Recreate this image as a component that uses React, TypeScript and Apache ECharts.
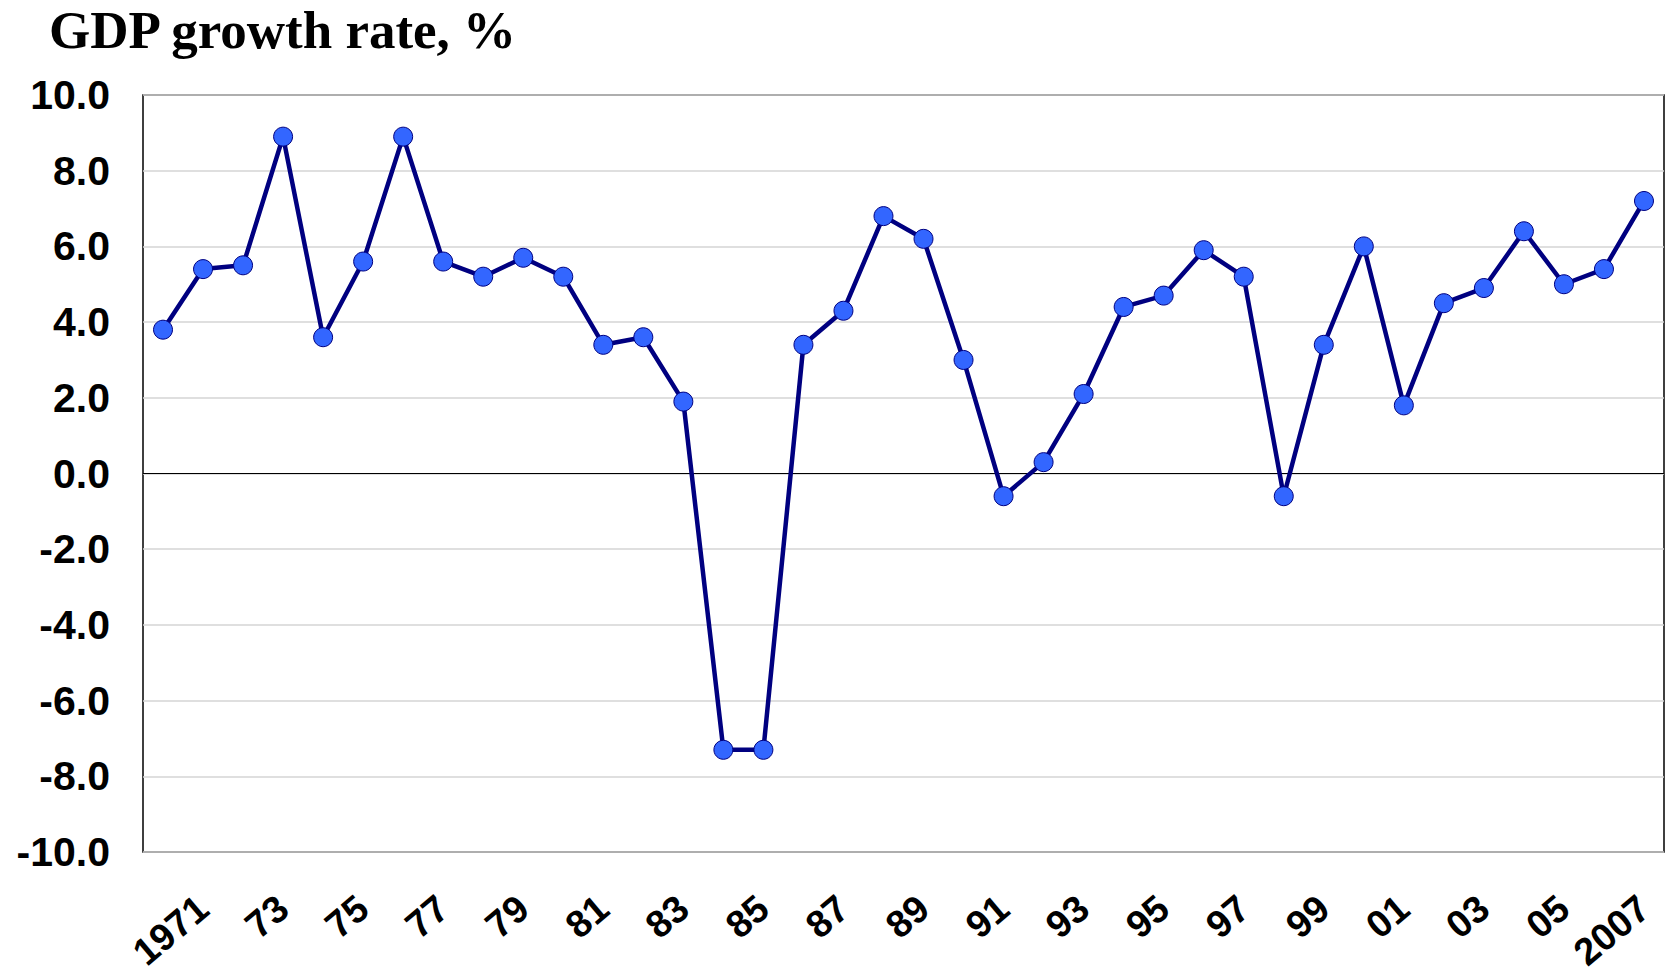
import React, { useEffect, useRef } from "react";
import * as echarts from "echarts";

const years: string[] = [
  "1970", "1971", "1972", "1973", "1974", "1975", "1976", "1977", "1978", "1979",
  "1980", "1981", "1982", "1983", "1984", "1985", "1986", "1987", "1988", "1989",
  "1990", "1991", "1992", "1993", "1994", "1995", "1996", "1997", "1998", "1999",
  "2000", "2001", "2002", "2003", "2004", "2005", "2006", "2007",
];

const tickLabels: Record<string, string> = {
  "1971": "1971", "1973": "73", "1975": "75", "1977": "77", "1979": "79",
  "1981": "81", "1983": "83", "1985": "85", "1987": "87", "1989": "89",
  "1991": "91", "1993": "93", "1995": "95", "1997": "97", "1999": "99",
  "2001": "01", "2003": "03", "2005": "05", "2007": "2007",
};

const gdpGrowth: number[] = [
  3.8, 5.4, 5.5, 8.9, 3.6, 5.6, 8.9, 5.6, 5.2, 5.7,
  5.2, 3.4, 3.6, 1.9, -7.3, -7.3, 3.4, 4.3, 6.8, 6.2,
  3.0, -0.6, 0.3, 2.1, 4.4, 4.7, 5.9, 5.2, -0.6, 3.4,
  6.0, 1.8, 4.5, 4.9, 6.4, 5.0, 5.4, 7.2,
];

const chartTitle = "GDP growth rate, %";

export default function App() {
  const ref = useRef<HTMLDivElement>(null);

  useEffect(() => {
    if (!ref.current) return;
    const chart = echarts.init(ref.current, null, { renderer: "svg" });
    chart.setOption({
      animation: false,
      backgroundColor: "#ffffff",
      title: {
        text: chartTitle,
        left: 44,
        top: -2,
        textStyle: {
          fontFamily: "Liberation Serif",
          fontWeight: "bold",
          fontSize: 53,
          color: "#000000",
        },
      },
      grid: {
        left: 143,
        top: 95,
        right: 5,
        bottom: 121,
        containLabel: false,
        outerBoundsMode: "none",
        show: true,
        borderColor: "#000000",
        borderWidth: 1.5,
        backgroundColor: "transparent",
      },
      xAxis: {
        type: "category",
        data: years,
        boundaryGap: true,
        axisLine: { show: false, onZero: false },
        axisTick: { show: false },
        splitLine: { show: false },
        axisLabel: {
          interval: (index: number) => index % 2 === 1,
          formatter: (v: string) => tickLabels[v] ?? "",
          rotate: 40,
          margin: 51,
          fontFamily: "Liberation Sans",
          fontWeight: "bold",
          fontSize: 38,
          color: "#000000",
        },
      },
      yAxis: {
        type: "value",
        min: -10,
        max: 10,
        interval: 2,
        axisLine: { show: false },
        axisTick: { show: false },
        splitLine: { show: true, lineStyle: { color: "#d4d4d4", width: 1.5 } },
        axisLabel: {
          formatter: (v: number) => v.toFixed(1),
          margin: 33,
          fontFamily: "Liberation Sans",
          fontWeight: "bold",
          fontSize: 41,
          color: "#000000",
        },
      },
      series: [
        {
          type: "line",
          data: gdpGrowth,
          symbol: "circle",
          symbolSize: 19,
          lineStyle: { color: "#000080", width: 4.5 },
          itemStyle: { color: "#3366ff", borderColor: "#000080", borderWidth: 1 },
          z: 3,
          markLine: {
            silent: true,
            symbol: "none",
            label: { show: false },
            lineStyle: { color: "#000000", width: 1.2, type: "solid" },
            data: [{ yAxis: 0 }],
            z: 1,
          },
        },
      ],
    });
    return () => chart.dispose();
  }, []);

  return (
    <div
      ref={ref}
      style={{ position: "fixed", left: 0, top: 0, width: 1669, height: 973 }}
    />
  );
}
